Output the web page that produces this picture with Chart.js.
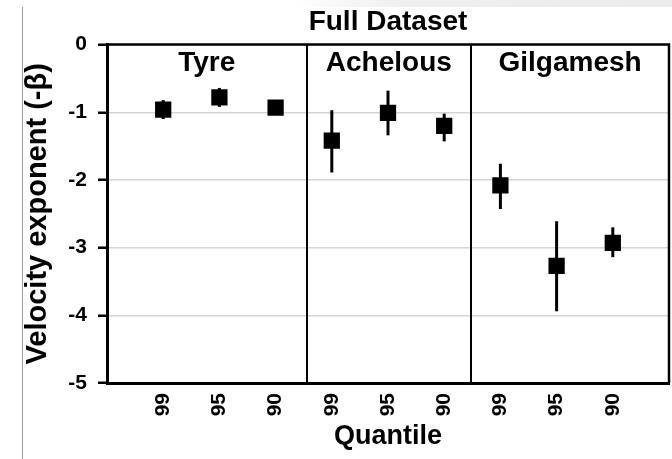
<!DOCTYPE html>
<html>
<head>
<meta charset="utf-8">
<style>
  html, body { margin: 0; padding: 0; background: #fff; }
  #wrap { width: 672px; height: 459px; position: relative; }
</style>
<script src="https://cdn.jsdelivr.net/npm/chart.js@4.4.1/dist/chart.umd.min.js"></script>
</head>
<body>
<div id="wrap"><canvas id="chart" width="672" height="459"></canvas></div>
<script>
// datos
const groups = ["Tyre", "Achelous", "Gilgamesh"];
const quantiles = ["99", "95", "90"];
const beta  = [-0.96, -0.78, -0.93, -1.42, -1.01, -1.20, -2.08, -3.27, -2.93];
const errUp = [0.14, 0.14, 0.08, 0.45, 0.33, 0.18, 0.32, 0.66, 0.23];
const errDn = [0.14, 0.14, 0.08, 0.47, 0.33, 0.23, 0.35, 0.67, 0.21];
const yTicks = [0, -1, -2, -3, -4, -5];
// limites de cada panel en el eje x
const panelEdges = [0, 3.55, 6.48, 10];

const FONT = "'Liberation Sans', Arial, sans-serif";

// x = 1..9, un grupo cada 3 cuantiles
const points = beta.map((v, i) => ({ x: i + 1, y: v }));

function tickLabel(v) {
  if (v < 1 || v > groups.length * quantiles.length) return "";
  return quantiles[(v - 1) % quantiles.length];
}

// barras de error, separadores y nombres de grupo
const panelPlugin = {
  id: "panels",
  beforeDraw(chart) {
    // franja gris clara arriba a la derecha (fondo de la captura)
    const { ctx } = chart;
    const g = ctx.createLinearGradient(290, 0, 672, 0);
    g.addColorStop(0, "rgba(238,238,238,0)");
    g.addColorStop(0.3, "#efefef");
    g.addColorStop(1, "#ececec");
    ctx.save();
    ctx.fillStyle = g;
    ctx.fillRect(290, 0, 382, 7);
    ctx.restore();
  },
  beforeDatasetsDraw(chart) {
    const { ctx, scales: { x, y } } = chart;
    ctx.save();
    ctx.strokeStyle = "#000";
    ctx.lineWidth = 3;
    points.forEach((p, i) => {
      const px = x.getPixelForValue(p.x);
      ctx.beginPath();
      ctx.moveTo(px, y.getPixelForValue(p.y + errUp[i]));
      ctx.lineTo(px, y.getPixelForValue(p.y - errDn[i]));
      ctx.stroke();
    });
    ctx.restore();
  },
  afterDraw(chart) {
    const { ctx, chartArea, scales: { x } } = chart;
    ctx.save();
    ctx.strokeStyle = "#000";
    // separadores
    ctx.lineWidth = 2;
    for (let g = 1; g < panelEdges.length - 1; g++) {
      const px = Math.round(x.getPixelForValue(panelEdges[g]));
      ctx.beginPath();
      ctx.moveTo(px, chartArea.top);
      ctx.lineTo(px, chartArea.bottom);
      ctx.stroke();
    }
    // marco superior y derecho
    ctx.lineWidth = 2.5;
    ctx.beginPath();
    ctx.moveTo(chartArea.left, chartArea.top);
    ctx.lineTo(chartArea.right, chartArea.top);
    ctx.lineTo(chartArea.right, chartArea.bottom);
    ctx.stroke();
    // nombres centrados en cada panel
    ctx.fillStyle = "#000";
    ctx.font = "bold 28px " + FONT;
    ctx.textAlign = "center";
    ctx.textBaseline = "middle";
    groups.forEach((name, g) => {
      const px = (x.getPixelForValue(panelEdges[g]) + x.getPixelForValue(panelEdges[g + 1])) / 2;
      ctx.fillText(name, px, chartArea.top + 19);
    });
    // linea gris del borde izquierdo
    ctx.strokeStyle = "#9a9a9a";
    ctx.lineWidth = 1;
    ctx.beginPath();
    ctx.moveTo(22.5, 7);
    ctx.lineTo(22.5, chart.height);
    ctx.stroke();
    ctx.restore();
  }
};

new Chart(document.getElementById("chart"), {
  type: "scatter",
  data: {
    datasets: [{
      data: points,
      pointStyle: "rect",
      pointRadius: 11.5,
      pointHoverRadius: 11.5,
      backgroundColor: "#000",
      borderColor: "#000",
      borderWidth: 0
    }]
  },
  options: {
    responsive: false,
    animation: false,
    layout: { autoPadding: false, padding: { left: 0, right: 3, top: 0, bottom: 0 } },
    plugins: {
      legend: { display: false },
      tooltip: { enabled: false },
      title: {
        display: true,
        fullSize: false,
        text: "Full Dataset",
        color: "#000",
        font: { family: FONT, size: 28, weight: "bold" },
        padding: { top: 5, bottom: 6 }
      }
    },
    scales: {
      x: {
        type: "linear",
        min: 0,
        max: 10,
        afterFit: (s) => { s.height = 76; s.paddingLeft = 0; s.paddingRight = 0; },
        afterBuildTicks: (s) => { s.ticks = [1,2,3,4,5,6,7,8,9].map(v => ({ value: v })); },
        ticks: {
          stepSize: 1,
          autoSkip: false,
          minRotation: 90,
          maxRotation: 90,
          padding: 2,
          color: "#000",
          font: { family: FONT, size: 21, weight: "bold" },
          callback: (v) => tickLabel(v)
        },
        grid: { display: false },
        border: { display: true, color: "#000", width: 3 },
        title: {
          display: true,
          text: "Quantile",
          color: "#000",
          font: { family: FONT, size: 27, weight: "bold" },
          padding: { top: 0, bottom: 6 }
        }
      },
      y: {
        min: -5,
        max: 0,
        afterFit: (s) => { s.width = 107; },
        afterBuildTicks: (s) => { s.ticks = yTicks.map(v => ({ value: v })); },
        ticks: {
          stepSize: 1,
          padding: 11,
          color: "#000",
          font: { family: FONT, size: 21, weight: "bold" }
        },
        grid: {
          color: "#d4d4d4",
          lineWidth: 1.5,
          tickLength: 9,
          tickColor: "#000",
          tickWidth: 2.5
        },
        border: { display: true, color: "#000", width: 3 },
        title: {
          display: true,
          text: "Velocity exponent (-β)",
          color: "#000",
          font: { family: FONT, size: 29, weight: "bold" },
          padding: { top: 21, bottom: 0 }
        }
      }
    }
  },
  plugins: [panelPlugin]
});
</script>
</body>
</html>
